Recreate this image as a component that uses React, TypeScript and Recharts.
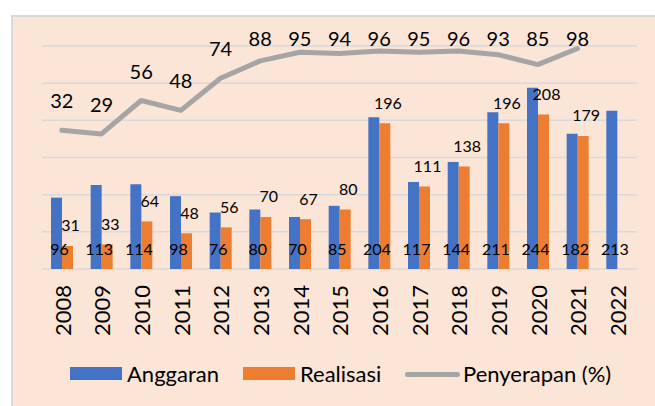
import {
  Bar,
  CartesianGrid,
  ComposedChart,
  LabelList,
  Line,
  XAxis,
  YAxis,
} from "recharts";

const years = ["2008", "2009", "2010", "2011", "2012", "2013", "2014", "2015", "2016", "2017", "2018", "2019", "2020", "2021", "2022"];
const anggaran = [96, 113, 114, 98, 76, 80, 70, 85, 204, 117, 144, 211, 244, 182, 213];
const realisasi: (number | null)[] = [31, 33, 64, 48, 56, 70, 67, 80, 196, 111, 138, 196, 208, 179, null];
const penyerapan: (number | null)[] = [32, 29, 56, 48, 74, 88, 95, 94, 96, 95, 96, 93, 85, 98, null];
const leftTicks = [0, 50, 100, 150, 200, 250, 300];

const data = years.map((y, i) => ({
  year: y,
  anggaran: anggaran[i],
  realisasi: realisasi[i],
  penyerapan: penyerapan[i],
}));

const FONT = "Lato, 'Open Sans', sans-serif";
const BLUE = "#4472C4";
const ORANGE = "#ED7D31";
const GRAY = "#A5A5A5";

function YearTick(props: any) {
  const { x, y, payload } = props;
  return (
    <text
      transform={`translate(${x + 1},${y + 16}) rotate(-90)`}
      textAnchor="end"
      dy="0.36em"
      fontFamily={FONT}
      fontSize={22}
      fill="#000"
    >
      {payload.value}
    </text>
  );
}

// anggaran value sits near the foot of the blue bar
function BaseLabel(props: any) {
  const { x, y, width, height, value } = props;
  if (value == null) return null;
  return (
    <text x={x + width / 2 + 3} y={y + height - 21} textAnchor="middle" dominantBaseline="central" fontFamily={FONT} fontSize={16} fill="#000">
      {value}
    </text>
  );
}

function TopLabel(props: any) {
  const { x, y, width, value } = props;
  if (value == null) return null;
  return (
    <text x={x + width / 2 + 3} y={y - 21} textAnchor="middle" dominantBaseline="central" fontFamily={FONT} fontSize={16} fill="#000">
      {value}
    </text>
  );
}

function PctLabel(props: any) {
  const { x, y, value } = props;
  if (value == null) return null;
  return (
    <text x={x} y={Math.max(y - 30, 38)} textAnchor="middle" dominantBaseline="central" fontFamily={FONT} fontSize={20} fill="#000">
      {value}
    </text>
  );
}

const legendText = { position: "absolute" as const, top: 374, transform: "translateY(-50%)", fontFamily: FONT, fontSize: 22, color: "#000", lineHeight: 1 };

export default function App() {
  return (
    <div style={{ position: "absolute", left: 0, top: 0, width: 655, height: 406, background: "#fff", overflow: "hidden" }}>
      <div
        style={{
          position: "absolute",
          left: 11,
          top: 15,
          width: 644,
          height: 391,
          background: "#FBE5D6",
          borderLeft: "2px solid #D9D9D9",
          borderTop: "2px solid #D9D9D9",
          boxSizing: "border-box",
        }}
      />
      <div style={{ position: "absolute", left: 0, top: 0 }}>
        <ComposedChart
          width={655}
          height={406}
          data={data}
          margin={{ top: 46, right: 18, left: 42, bottom: 77 }}
          barGap={0}
          barSize={11}
        >
          <CartesianGrid vertical={false} stroke="#D9D9D9" strokeWidth={1.5} yAxisId="left" />
          <XAxis dataKey="year" interval={0} axisLine={false} tickLine={false} tickSize={0} tickMargin={0} height={60} tick={<YearTick />} />
          <YAxis yAxisId="left" hide domain={[0, 300]} ticks={leftTicks} />
          <YAxis yAxisId="pct" hide orientation="right" domain={[-80, 100]} />
          <Bar yAxisId="left" dataKey="anggaran" fill={BLUE} isAnimationActive={false}>
            <LabelList dataKey="anggaran" content={<BaseLabel />} />
          </Bar>
          <Bar yAxisId="left" dataKey="realisasi" fill={ORANGE} isAnimationActive={false}>
            <LabelList dataKey="realisasi" content={<TopLabel />} />
          </Bar>
          <Line
            yAxisId="pct"
            dataKey="penyerapan"
            stroke={GRAY}
            strokeWidth={5}
            strokeLinecap="round"
            strokeLinejoin="round"
            dot={false}
            activeDot={false}
            type="linear"
            isAnimationActive={false}
          >
            <LabelList dataKey="penyerapan" content={<PctLabel />} />
          </Line>
        </ComposedChart>
      </div>
      <div style={{ position: "absolute", left: 70, top: 367, width: 52, height: 13, background: BLUE }} />
      <div style={{ ...legendText, left: 127 }}>Anggaran</div>
      <div style={{ position: "absolute", left: 243, top: 367, width: 52, height: 13, background: ORANGE }} />
      <div style={{ ...legendText, left: 300 }}>Realisasi</div>
      <div style={{ position: "absolute", left: 405, top: 371.5, width: 55, height: 5, borderRadius: 3, background: GRAY }} />
      <div style={{ ...legendText, left: 463 }}>Penyerapan (%)</div>
    </div>
  );
}
